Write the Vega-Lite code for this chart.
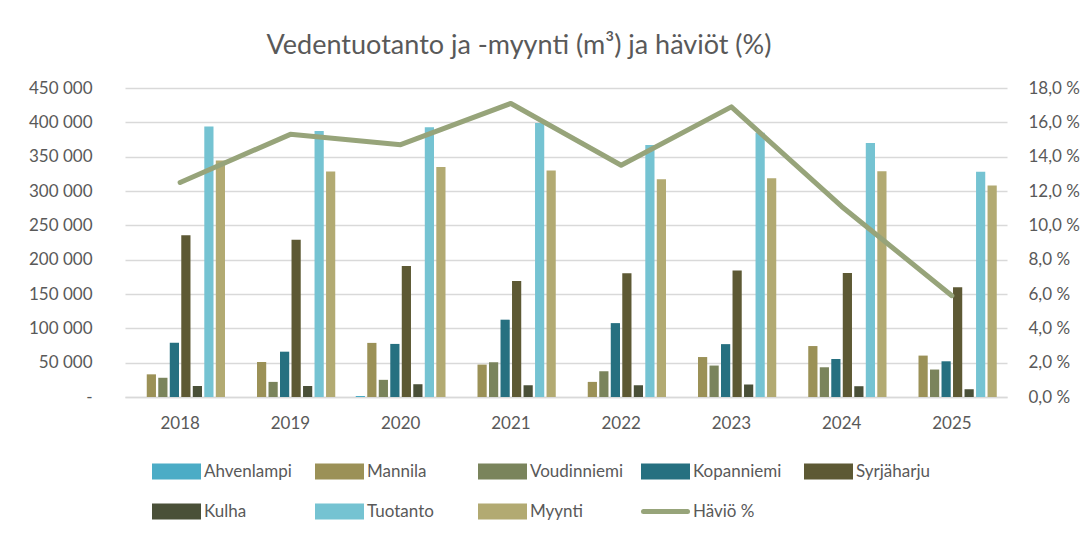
{
  "$schema": "https://vega.github.io/schema/vega-lite/v6.json",
  "width": 882,
  "height": 309,
  "autosize": {"type": "none"},
  "padding": {"left": 125, "top": 88, "right": 82, "bottom": 136},
  "background": "white",
  "title": {
    "text": "Vedentuotanto ja -myynti (m³) ja häviöt (%)",
    "font": "Lato",
    "fontSize": 27,
    "fontWeight": "normal",
    "color": "#595959",
    "dx": -47,
    "offset": 19
  },
  "config": {"view": {"stroke": null}, "font": "Lato"},
  "datasets": {
    "bars": [
      {"year": "2018", "series": "Ahvenlampi", "value": 0},
      {"year": "2018", "series": "Mannila", "value": 33000},
      {"year": "2018", "series": "Voudinniemi", "value": 28000},
      {"year": "2018", "series": "Kopanniemi", "value": 79000},
      {"year": "2018", "series": "Syrjäharju", "value": 235500},
      {"year": "2018", "series": "Kulha", "value": 16000},
      {"year": "2018", "series": "Tuotanto", "value": 394000},
      {"year": "2018", "series": "Myynti", "value": 344500},
      {"year": "2019", "series": "Ahvenlampi", "value": 0},
      {"year": "2019", "series": "Mannila", "value": 51000},
      {"year": "2019", "series": "Voudinniemi", "value": 22000},
      {"year": "2019", "series": "Kopanniemi", "value": 66000},
      {"year": "2019", "series": "Syrjäharju", "value": 229000},
      {"year": "2019", "series": "Kulha", "value": 16000},
      {"year": "2019", "series": "Tuotanto", "value": 387500},
      {"year": "2019", "series": "Myynti", "value": 328500},
      {"year": "2020", "series": "Ahvenlampi", "value": 1500},
      {"year": "2020", "series": "Mannila", "value": 78800},
      {"year": "2020", "series": "Voudinniemi", "value": 25000},
      {"year": "2020", "series": "Kopanniemi", "value": 77300},
      {"year": "2020", "series": "Syrjäharju", "value": 190600},
      {"year": "2020", "series": "Kulha", "value": 18600},
      {"year": "2020", "series": "Tuotanto", "value": 393000},
      {"year": "2020", "series": "Myynti", "value": 335000},
      {"year": "2021", "series": "Ahvenlampi", "value": 0},
      {"year": "2021", "series": "Mannila", "value": 47200},
      {"year": "2021", "series": "Voudinniemi", "value": 50600},
      {"year": "2021", "series": "Kopanniemi", "value": 112600},
      {"year": "2021", "series": "Syrjäharju", "value": 168800},
      {"year": "2021", "series": "Kulha", "value": 17100},
      {"year": "2021", "series": "Tuotanto", "value": 399000},
      {"year": "2021", "series": "Myynti", "value": 330000},
      {"year": "2022", "series": "Ahvenlampi", "value": 0},
      {"year": "2022", "series": "Mannila", "value": 22000},
      {"year": "2022", "series": "Voudinniemi", "value": 37500},
      {"year": "2022", "series": "Kopanniemi", "value": 107600},
      {"year": "2022", "series": "Syrjäharju", "value": 180200},
      {"year": "2022", "series": "Kulha", "value": 17100},
      {"year": "2022", "series": "Tuotanto", "value": 367000},
      {"year": "2022", "series": "Myynti", "value": 317000},
      {"year": "2023", "series": "Ahvenlampi", "value": 0},
      {"year": "2023", "series": "Mannila", "value": 58200},
      {"year": "2023", "series": "Voudinniemi", "value": 45800},
      {"year": "2023", "series": "Kopanniemi", "value": 77000},
      {"year": "2023", "series": "Syrjäharju", "value": 184300},
      {"year": "2023", "series": "Kulha", "value": 18200},
      {"year": "2023", "series": "Tuotanto", "value": 385000},
      {"year": "2023", "series": "Myynti", "value": 318500},
      {"year": "2024", "series": "Ahvenlampi", "value": 0},
      {"year": "2024", "series": "Mannila", "value": 74200},
      {"year": "2024", "series": "Voudinniemi", "value": 43300},
      {"year": "2024", "series": "Kopanniemi", "value": 55300},
      {"year": "2024", "series": "Syrjäharju", "value": 180500},
      {"year": "2024", "series": "Kulha", "value": 15700},
      {"year": "2024", "series": "Tuotanto", "value": 370000},
      {"year": "2024", "series": "Myynti", "value": 328600},
      {"year": "2025", "series": "Ahvenlampi", "value": 0},
      {"year": "2025", "series": "Mannila", "value": 60300},
      {"year": "2025", "series": "Voudinniemi", "value": 40000},
      {"year": "2025", "series": "Kopanniemi", "value": 52000},
      {"year": "2025", "series": "Syrjäharju", "value": 160000},
      {"year": "2025", "series": "Kulha", "value": 11300},
      {"year": "2025", "series": "Tuotanto", "value": 328000},
      {"year": "2025", "series": "Myynti", "value": 308000}
    ],
    "loss": [
      {"year": "2018", "series": "Häviö %", "pct": 12.5},
      {"year": "2019", "series": "Häviö %", "pct": 15.3},
      {"year": "2020", "series": "Häviö %", "pct": 14.7},
      {"year": "2021", "series": "Häviö %", "pct": 17.1},
      {"year": "2022", "series": "Häviö %", "pct": 13.5},
      {"year": "2023", "series": "Häviö %", "pct": 16.9},
      {"year": "2024", "series": "Häviö %", "pct": 11.1},
      {"year": "2025", "series": "Häviö %", "pct": 5.9}
    ]
  },
  "layer": [
    {
      "data": {"name": "bars"},
      "mark": {"type": "bar"},
      "encoding": {
        "x": {
          "field": "year",
          "type": "ordinal",
          "scale": {"paddingInner": 0.165, "paddingOuter": 0.0825},
          "axis": {
            "title": null,
            "labelAngle": 0,
            "ticks": false,
            "labelPadding": 18,
            "labelFont": "Lato",
            "labelFontSize": 17,
            "labelColor": "#595959",
            "domainColor": "#D9D9D9",
            "domainWidth": 1.5,
            "grid": false
          }
        },
        "xOffset": {
          "field": "series",
          "type": "nominal",
          "scale": {
            "domain": ["Ahvenlampi", "Mannila", "Voudinniemi", "Kopanniemi", "Syrjäharju", "Kulha", "Tuotanto", "Myynti"],
            "paddingInner": 0.2,
            "paddingOuter": 0.1
          }
        },
        "y": {
          "field": "value",
          "type": "quantitative",
          "scale": {"domain": [0, 450000]},
          "axis": {
            "title": null,
            "values": [0, 50000, 100000, 150000, 200000, 250000, 300000, 350000, 400000, 450000],
            "labelExpr": "datum.value === 0 ? '-\u00a0\u00a0\u00a0' : format(datum.value / 1000, 'd') + ' 000'",
            "ticks": false,
            "domain": false,
            "labelPadding": 33,
            "labelFont": "Lato",
            "labelFontSize": 17,
            "labelColor": "#595959",
            "gridColor": "#D9D9D9",
            "gridWidth": 1.3
          }
        },
        "color": {
          "field": "series",
          "type": "nominal",
          "scale": {
            "domain": ["Ahvenlampi", "Mannila", "Voudinniemi", "Kopanniemi", "Syrjäharju", "Kulha", "Tuotanto", "Myynti", "Häviö %"],
            "range": ["#4BACC6", "#9B9157", "#7A845C", "#267080", "#5D5934", "#4A5038", "#75C3D2", "#B2AA72", "#97A47A"]
          },
          "legend": {
            "orient": "none",
            "legendX": 27,
            "legendY": 359,
            "direction": "horizontal",
            "columns": 5,
            "gridAlign": "all",
            "title": null,
            "symbolType": "M-1,-0.25H1V0.25H-1Z",
            "symbolSize": 1936,
            "labelFont": "Lato",
            "labelFontSize": 17,
            "labelColor": "#595959",
            "labelOffset": 3,
            "columnPadding": 9,
            "rowPadding": -5,
            "encode": {
              "symbols": {
                "update": {
                  "shape": {"signal": "datum.value === 'Häviö %' ? 'stroke' : 'M-1,-0.25H1V0.25H-1Z'"},
                  "fill": {"signal": "datum.value === 'Häviö %' ? 'transparent' : scale('color', datum.value)"},
                  "stroke": {"signal": "datum.value === 'Häviö %' ? scale('color', datum.value) : 'transparent'"},
                  "strokeWidth": {"value": 5},
                  "strokeCap": {"value": "round"},
                  "opacity": {"value": 1}
                }
              }
            }
          }
        }
      }
    },
    {
      "data": {"name": "loss"},
      "mark": {"type": "line", "strokeWidth": 5, "strokeJoin": "round", "strokeCap": "round"},
      "encoding": {
        "x": {"field": "year", "type": "ordinal"},
        "y": {
          "field": "pct",
          "type": "quantitative",
          "scale": {"domain": [0, 18]},
          "axis": {
            "orient": "right",
            "title": null,
            "values": [0, 2, 4, 6, 8, 10, 12, 14, 16, 18],
            "labelExpr": "replace(format(datum.value, '.1f'), '.', ',') + ' %'",
            "grid": false,
            "ticks": false,
            "domain": false,
            "labelPadding": 21,
            "labelFont": "Lato",
            "labelFontSize": 17,
            "labelColor": "#595959"
          }
        },
        "color": {"field": "series", "type": "nominal"}
      }
    }
  ],
  "resolve": {"scale": {"y": "independent"}}
}
